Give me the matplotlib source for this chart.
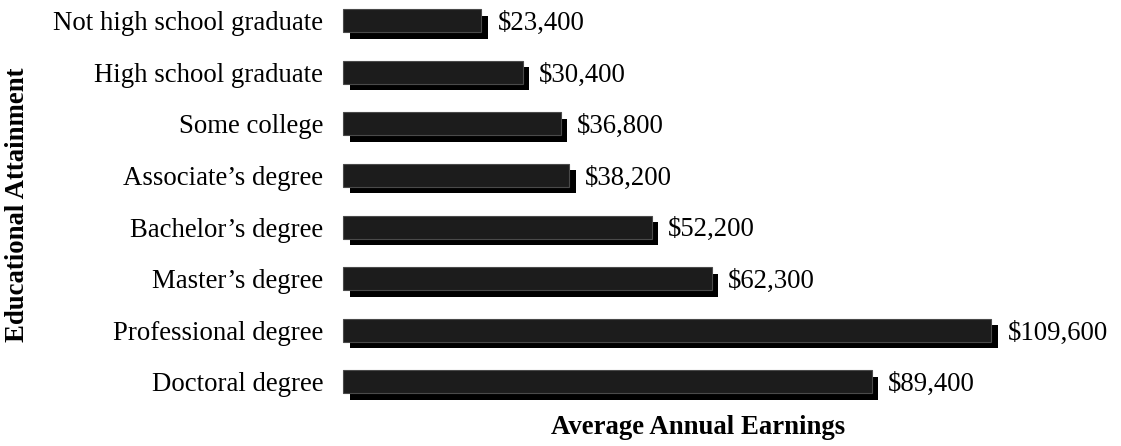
import matplotlib.pyplot as plt
import matplotlib.patheffects as pe

categories = ["Not high school graduate", "High school graduate", "Some college",
              "Associate\u2019s degree", "Bachelor\u2019s degree", "Master\u2019s degree",
              "Professional degree", "Doctoral degree"]
earnings = [23400, 30400, 36800, 38200, 52200, 62300, 109600, 89400]

plt.rcParams['font.family'] = ['Liberation Serif', 'DejaVu Serif']
fs = 19.3

fig = plt.figure(figsize=(11.21, 4.46), dpi=100)
ax = fig.add_axes([0.306, 0.0857, 0.6333, 0.8914])

pos = range(len(categories))
bars = ax.barh(pos, earnings, height=0.446, color='#1c1c1c', edgecolor='#4a4a4a',
               linewidth=0.8, clip_on=False)
for b in bars:
    b.set_path_effects([pe.SimplePatchShadow(offset=(4.7, -4.7), shadow_rgbFace='black', alpha=1.0),
                        pe.Normal()])

# value labels to the right of each bar (shadow included)
for i, v in enumerate(earnings):
    ax.annotate("${:,}".format(v), (v, i), xytext=(11.5, -2), textcoords='offset points',
                va='center', ha='left', fontsize=fs, annotation_clip=False)

ax.set_xlim(0, 120000)
ax.set_ylim(7.5, -0.2)
ax.set_yticks(list(pos))
ax.set_yticklabels(categories, fontsize=fs)
ax.set_xticks([])
ax.tick_params(axis='y', length=0, pad=14.4)
for s in ax.spines.values():
    s.set_visible(False)

ax.set_xlabel("Average Annual Earnings", fontsize=fs, fontweight='bold', labelpad=5)
fig.text(0.016, 0.54, "Educational Attainment", rotation=90, fontsize=fs,
         fontweight='bold', ha='center', va='center')

fig.savefig("out.png", dpi=100)
